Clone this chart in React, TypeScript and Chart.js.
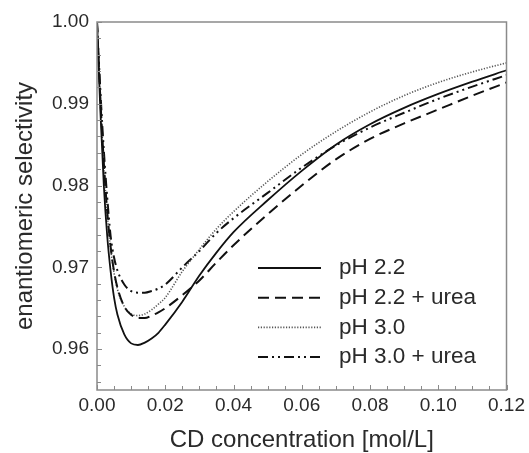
import { useEffect, useRef } from "react";
import { Chart, registerables } from "chart.js";

Chart.register(...registerables);

// ---- data ----
const concentration = [0, 0.001, 0.002, 0.003, 0.004, 0.005, 0.006, 0.008, 0.010, 0.012, 0.014, 0.016, 0.018, 0.020, 0.025, 0.030, 0.035, 0.040, 0.050, 0.060, 0.070, 0.080, 0.090, 0.100, 0.110, 0.120];
const ph22 = [1.0, 0.9890, 0.9800, 0.9738, 0.9695, 0.9663, 0.9642, 0.9618, 0.9607, 0.9605, 0.9608, 0.9613, 0.9620, 0.9630, 0.9658, 0.9690, 0.9718, 0.9743, 0.9782, 0.9818, 0.9850, 0.9875, 0.9895, 0.9912, 0.9927, 0.9941];
const ph22Urea = [1.0, 0.9905, 0.9828, 0.9768, 0.9725, 0.9695, 0.9675, 0.9652, 0.9642, 0.9638, 0.9638, 0.9641, 0.9645, 0.9650, 0.9666, 0.9684, 0.9706, 0.9727, 0.9765, 0.9800, 0.9832, 0.9857, 0.9876, 0.9893, 0.9910, 0.9926];
const ph30 = [1.0, 0.9905, 0.9825, 0.9765, 0.9722, 0.9693, 0.9673, 0.9652, 0.9643, 0.9641, 0.9643, 0.9648, 0.9655, 0.9663, 0.9695, 0.9722, 0.9747, 0.9768, 0.9805, 0.9838, 0.9866, 0.9890, 0.9910, 0.9926, 0.9939, 0.9950];
const ph30Urea = [1.0, 0.9915, 0.9843, 0.9785, 0.9738, 0.9712, 0.9696, 0.9679, 0.9671, 0.9669, 0.9669, 0.9671, 0.9674, 0.9679, 0.9700, 0.9720, 0.9742, 0.9760, 0.9791, 0.9822, 0.9849, 0.9871, 0.9889, 0.9906, 0.9921, 0.9935];
const seriesLabels = ["pH 2.2", "pH 2.2 + urea", "pH 3.0", "pH 3.0 + urea"];
const xTickValues = [0, 0.02, 0.04, 0.06, 0.08, 0.10, 0.12];
const yTickValues = [0.96, 0.97, 0.98, 0.99, 1.00];
const xAxisTitle = "CD concentration [mol/L]";
const yAxisTitle = "enantiomeric selectivity";

const FONT = "'Liberation Sans', Arial, sans-serif";
const TEXT = "#2a2a2a";
const FRAME = "#8a8a8a";

const framePlugin = {
  id: "frameAndTicks",
  afterDraw(chart: any) {
    const { ctx, chartArea } = chart;
    const xs = chart.scales.x;
    const ys = chart.scales.y;
    ctx.save();
    ctx.strokeStyle = FRAME;
    ctx.lineWidth = 1.5;
    ctx.strokeRect(chartArea.left, chartArea.top, chartArea.right - chartArea.left, chartArea.bottom - chartArea.top);
    ctx.lineWidth = 1;
    ctx.beginPath();
    for (let i = 0; i <= 24; i++) {
      const v = i * 0.005;
      const px = Math.round(xs.getPixelForValue(v)) + 0.5;
      const len = i % 4 === 0 ? 5 : 4;
      ctx.moveTo(px, chartArea.bottom);
      ctx.lineTo(px, chartArea.bottom - len);
    }
    for (let i = 0; i <= 22; i++) {
      const v = 0.956 + i * 0.002;
      const py = Math.round(ys.getPixelForValue(v)) + 0.5;
      const len = i % 5 === 2 ? 5 : 4;
      ctx.moveTo(chartArea.left, py);
      ctx.lineTo(chartArea.left + len, py);
    }
    ctx.stroke();
    ctx.restore();
  },
};

const legendPlugin = {
  id: "insideLegend",
  afterDatasetsDraw(chart: any) {
    const { ctx, chartArea } = chart;
    const x0 = chartArea.left + 161;
    const x1 = chartArea.left + 224;
    const tx = chartArea.left + 242;
    const yStart = chartArea.top + 246;
    const step = 29.7;
    ctx.save();
    chart.data.datasets.forEach((ds: any, i: number) => {
      const y = yStart + i * step;
      ctx.strokeStyle = ds.borderColor;
      ctx.lineWidth = ds.borderWidth;
      ctx.setLineDash(ds.borderDash || []);
      ctx.beginPath();
      ctx.moveTo(x0, y);
      ctx.lineTo(x1, y);
      ctx.stroke();
      ctx.setLineDash([]);
      ctx.fillStyle = TEXT;
      ctx.font = `22.5px ${FONT}`;
      ctx.textBaseline = "middle";
      ctx.textAlign = "left";
      ctx.fillText(ds.label, tx, y);
    });
    ctx.restore();
  },
};

export default function App() {
  const canvasRef = useRef<HTMLCanvasElement | null>(null);

  useEffect(() => {
    if (!canvasRef.current) return;
    const toPoints = (ys: number[]) => ys.map((y, i) => ({ x: concentration[i], y }));
    const chart = new Chart(canvasRef.current, {
      type: "line",
      data: {
        datasets: [
          { label: seriesLabels[0], data: toPoints(ph22), borderColor: "#111", borderWidth: 1.8, borderDash: [] },
          { label: seriesLabels[1], data: toPoints(ph22Urea), borderColor: "#111", borderWidth: 2, borderDash: [11, 6] },
          { label: seriesLabels[2], data: toPoints(ph30), borderColor: "#555", borderWidth: 1.6, borderDash: [1.2, 1.6] },
          { label: seriesLabels[3], data: toPoints(ph30Urea), borderColor: "#111", borderWidth: 2, borderDash: [10, 4, 2, 4, 2, 4] },
        ] as any,
      },
      options: {
        animation: false,
        responsive: false,
        devicePixelRatio: 1,
        layout: { padding: { top: 22, right: 22, left: 0, bottom: 0 } },
        elements: {
          point: { radius: 0 },
          line: { cubicInterpolationMode: "monotone", fill: false },
        },
        plugins: { legend: { display: false }, tooltip: { enabled: false } },
        scales: {
          x: {
            type: "linear",
            min: 0,
            max: 0.12,
            afterBuildTicks: (scale: any) => {
              scale.ticks = xTickValues.map((v) => ({ value: v }));
            },
            afterFit: (scale: any) => {
              scale.height = 63;
            },
            grid: { display: false, drawTicks: false },
            border: { display: false },
            ticks: {
              color: TEXT,
              font: { family: FONT, size: 19 },
              padding: 4,
              maxRotation: 0,
              callback: (v: any) => Number(v).toFixed(2),
            },
            title: {
              display: true,
              text: xAxisTitle,
              color: TEXT,
              font: { family: FONT, size: 24, lineHeight: 1 },
              padding: { top: 0, bottom: 1 },
            },
          },
          y: {
            type: "linear",
            min: 0.955,
            max: 1.0,
            afterBuildTicks: (scale: any) => {
              scale.ticks = yTickValues.map((v) => ({ value: v }));
            },
            afterFit: (scale: any) => {
              scale.width = 97;
            },
            grid: { display: false, drawTicks: false },
            border: { display: false },
            ticks: {
              color: TEXT,
              font: { family: FONT, size: 19 },
              padding: 8,
              callback: (v: any) => Number(v).toFixed(2),
            },
            title: {
              display: true,
              text: yAxisTitle,
              color: TEXT,
              font: { family: FONT, size: 24, lineHeight: 1 },
              padding: { top: 13, bottom: 0 },
            },
          },
        },
      } as any,
      plugins: [framePlugin, legendPlugin],
    });
    return () => chart.destroy();
  }, []);

  return (
    <div style={{ position: "fixed", left: 0, top: 0, width: 529, height: 453, background: "#fff" }}>
      <canvas ref={canvasRef} width={529} height={453} style={{ width: 529, height: 453 }} />
    </div>
  );
}
